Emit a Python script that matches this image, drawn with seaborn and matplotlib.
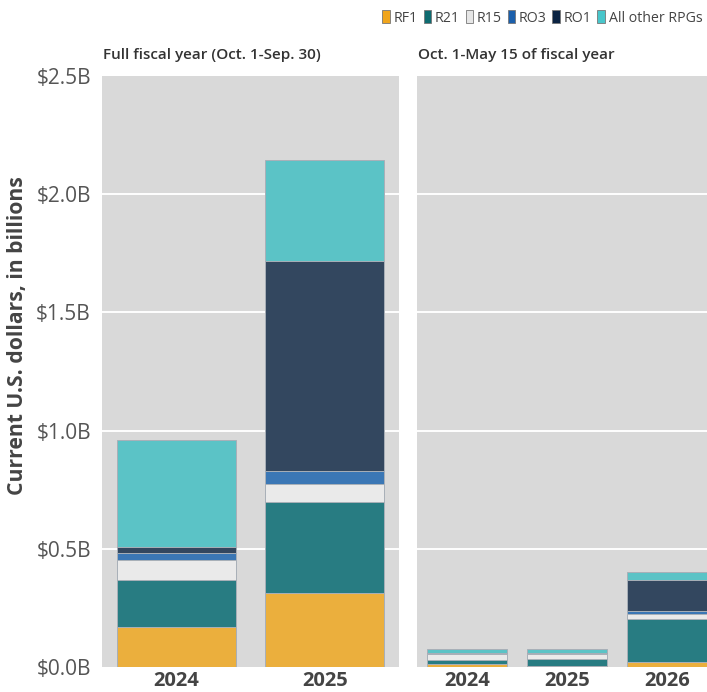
import matplotlib
matplotlib.use("Agg")
import matplotlib.pyplot as plt
import matplotlib.patches as mpatches
import seaborn as sns
import pandas as pd

# ---- data (billions of current U.S. dollars) ----
series = ["RF1", "R21", "R15", "RO3", "RO1", "All other RPGs"]
full_years = ["2024", "2025"]
partial_years = ["2024", "2025", "2026"]

full_RF1 = [0.169, 0.312]
full_R21 = [0.200, 0.388]
full_R15 = [0.082, 0.076]
full_RO3 = [0.032, 0.052]
full_RO1 = [0.025, 0.889]
full_other = [0.454, 0.428]

part_RF1 = [0.013, 0.004, 0.023]
part_R21 = [0.015, 0.029, 0.181]
part_R15 = [0.027, 0.022, 0.020]
part_RO3 = [0.003, 0.002, 0.014]
part_RO1 = [0.002, 0.002, 0.129]
part_other = [0.016, 0.019, 0.035]

panel_titles = ["Full fiscal year (Oct. 1-Sep. 30)", "Oct. 1-May 15 of fiscal year"]
y_ticks = [0.0, 0.5, 1.0, 1.5, 2.0, 2.5]
y_ticklabels = ["$0.0B", "$0.5B", "$1.0B", "$1.5B", "$2.0B", "$2.5B"]
y_label = "Current U.S. dollars, in billions"

bar_colors = ["#EBAF3D", "#287C82", "#EAEAEA", "#3B77B5", "#33475F", "#5BC3C6"]
legend_colors = ["#F0A51C", "#0E6B70", "#E6E6E6", "#1B5FAB", "#0B2342", "#48C6CB"]


def make_frame(years, cols):
    rows = []
    for s, vals in zip(series, cols):
        for y, v in zip(years, vals):
            rows.append({"year": y, "series": s, "value": v})
    df = pd.DataFrame(rows)
    df["series"] = pd.Categorical(df["series"], categories=series, ordered=True)
    df = df.sort_values(["year", "series"])
    df["cum"] = df.groupby("year")["value"].cumsum()
    return df


df_full = make_frame(full_years, [full_RF1, full_R21, full_R15, full_RO3, full_RO1, full_other])
df_part = make_frame(partial_years, [part_RF1, part_R21, part_R15, part_RO3, part_RO1, part_other])

sns.set_theme(style="white")
plt.rcParams["font.family"] = ["Open Sans", "DejaVu Sans"]

W, H = 707, 692
fig = plt.figure(figsize=(W / 100, H / 100), dpi=100)
bottom_px, top_px = 667, 76
ax1 = fig.add_axes([102 / W, (H - bottom_px) / H, 297 / W, (bottom_px - top_px) / H])
ax2 = fig.add_axes([417 / W, (H - bottom_px) / H, 300 / W, (bottom_px - top_px) / H])

for ax, df, years in [(ax1, df_full, full_years), (ax2, df_part, partial_years)]:
    ax.set_facecolor("#D9D9D9")
    for yv in y_ticks[1:-1]:
        ax.axhline(yv, color="white", lw=1.4, zorder=0.5)
    for s, c in reversed(list(zip(series, bar_colors))):
        sub = df[df["series"] == s]
        sns.barplot(data=sub, x="year", y="cum", order=years, color=c, ax=ax,
                    width=0.8, edgecolor="#A9B0B8", linewidth=0.7,
                    saturation=1, errorbar=None, zorder=2)
    ax.set_ylim(0, 2.5)
    ax.set_xlim(-0.5, len(years) - 0.5)
    ax.set_xlabel("")
    ax.set_ylabel("")
    for sp in ax.spines.values():
        sp.set_visible(False)
    ax.set_xticks(range(len(years)))
    ax.set_xticklabels(years, fontsize=14.5, fontweight="bold", color="#444444")
    ax.tick_params(axis="x", length=3, color="#D0D0D0", width=1, pad=0)

ax1.set_yticks(y_ticks)
ax1.set_yticklabels(y_ticklabels, fontsize=15, color="#555555")
ax1.tick_params(axis="y", length=6, color="#D0D0D0", width=1, pad=2)
ax2.set_yticks(y_ticks)
ax2.set_yticklabels([])
ax2.tick_params(axis="y", length=0)

fig.text(18 / W, 1 - 336 / H, y_label, fontsize=15.2, fontweight="bold", color="#444444",
         rotation=90, ha="center", va="center")

fig.text(103 / W, 1 - 55 / H, panel_titles[0], fontsize=11, fontweight="semibold",
         color="#333333", ha="left", va="center")
fig.text(418 / W, 1 - 55 / H, panel_titles[1], fontsize=11, fontweight="semibold",
         color="#333333", ha="left", va="center")

handles = [mpatches.Patch(facecolor=c, edgecolor="#777777", linewidth=0.6) for c in legend_colors]
fig.legend(handles, series, loc="center right", bbox_to_anchor=(708 / W, 1 - 18 / H),
           ncol=6, frameon=False, fontsize=10.2, handlelength=0.55, handleheight=1.0,
           handletextpad=0.25, columnspacing=0.4, labelcolor="#444444", borderaxespad=0)

fig.savefig("out.png", dpi=100)
